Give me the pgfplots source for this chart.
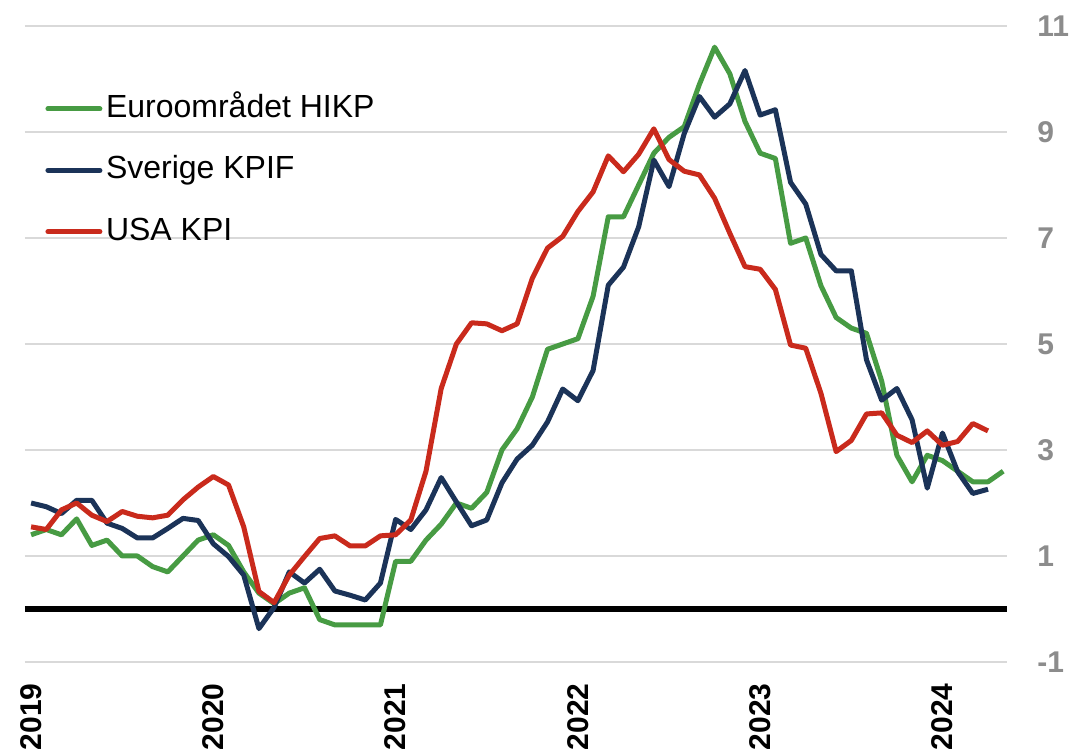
\documentclass[border=0pt]{standalone}
\usepackage{pgfplots}
\pgfplotsset{compat=1.18}
\usepackage{fontspec}
\setmainfont{Liberation Sans}
\definecolor{cgreen}{HTML}{479B43}
\definecolor{cnavy}{HTML}{1B3358}
\definecolor{cred}{HTML}{C92A1C}
\definecolor{cgrid}{HTML}{D9D9D9}
\definecolor{ctick}{HTML}{8C8C8C}
\begin{document}
\begin{tikzpicture}
\begin{axis}[
  scale only axis, width=491pt, height=318pt,
  xmin=-0.4, xmax=64.25, ymin=-1, ymax=11,
  axis line style={draw=none},
  major tick length=0pt,
  ytick={-1,1,3,5,7,9,11},
  yticklabels={-1,1,3,5,7,9,11},
  yticklabel pos=right,
  ymajorgrids,
  grid style={cgrid, line width=1pt},
  extra y ticks={0},
  extra y tick labels={},
  extra y tick style={grid style={black, line width=2.8pt}},
  y tick label style={font=\fontsize{15}{18}\selectfont\bfseries, text=ctick, inner sep=0pt, anchor=west},
  yticklabel shift=15pt,
  xtick={0,12,24,36,48,60},
  xticklabels={2019,2020,2021,2022,2023,2024},
  x tick label style={rotate=90, anchor=east, font=\fontsize{15}{18}\selectfont\bfseries, inner sep=0pt},
  xticklabel shift=10.5pt,
  legend cell align=left,
  legend style={at={(rel axis cs:0.0204,0.893)}, anchor=north west, draw=none, fill=none,
    font=\fontsize{16}{19}\selectfont, inner sep=0pt, column sep=1.8pt, row sep=16.2pt,
    nodes={inner sep=0pt, text height=11.5pt, text depth=3pt}},
  legend image code/.code={\draw[#1, line cap=round] (0pt,0pt) -- (26pt,0pt);},
  every axis plot/.append style={line width=2.5pt, line join=round},
]
\addplot[cgreen] coordinates {
(0,1.4)(1,1.5)(2,1.4)(3,1.7)(4,1.2)(5,1.3)(6,1.0)(7,1.0)(8,0.8)(9,0.7)(10,1.0)(11,1.3)
(12,1.4)(13,1.2)(14,0.7)(15,0.3)(16,0.1)(17,0.3)(18,0.4)(19,-0.2)(20,-0.3)(21,-0.3)(22,-0.3)(23,-0.3)
(24,0.9)(25,0.9)(26,1.3)(27,1.6)(28,2.0)(29,1.9)(30,2.2)(31,3.0)(32,3.4)(33,4.0)(34,4.9)(35,5.0)
(36,5.1)(37,5.9)(38,7.4)(39,7.4)(40,8.0)(41,8.6)(42,8.9)(43,9.1)(44,9.9)(45,10.6)(46,10.1)(47,9.2)
(48,8.6)(49,8.5)(50,6.9)(51,7.0)(52,6.1)(53,5.5)(54,5.3)(55,5.2)(56,4.3)(57,2.9)(58,2.4)(59,2.9)
(60,2.8)(61,2.6)(62,2.4)(63,2.4)(64,2.6)};
\addlegendentry{Euroområdet HIKP}
\addplot[cnavy] coordinates {
(0,2.0)(1,1.93)(2,1.8)(3,2.05)(4,2.05)(5,1.62)(6,1.52)(7,1.34)(8,1.34)(9,1.52)(10,1.71)(11,1.67)
(12,1.23)(13,0.99)(14,0.64)(15,-0.37)(16,0.03)(17,0.7)(18,0.49)(19,0.75)(20,0.34)(21,0.26)(22,0.17)(23,0.49)
(24,1.69)(25,1.5)(26,1.87)(27,2.48)(28,2.02)(29,1.57)(30,1.68)(31,2.38)(32,2.83)(33,3.09)(34,3.53)(35,4.15)
(36,3.93)(37,4.5)(38,6.11)(39,6.45)(40,7.21)(41,8.47)(42,7.97)(43,8.97)(44,9.67)(45,9.28)(46,9.53)(47,10.16)
(48,9.32)(49,9.42)(50,8.05)(51,7.64)(52,6.69)(53,6.38)(54,6.38)(55,4.7)(56,3.94)(57,4.16)(58,3.57)(59,2.28)
(60,3.32)(61,2.59)(62,2.18)(63,2.26)};
\addlegendentry{Sverige KPIF}
\addplot[cred] coordinates {
(0,1.55)(1,1.5)(2,1.87)(3,2.0)(4,1.77)(5,1.65)(6,1.84)(7,1.75)(8,1.72)(9,1.77)(10,2.06)(11,2.3)
(12,2.5)(13,2.34)(14,1.55)(15,0.33)(16,0.12)(17,0.64)(18,0.99)(19,1.33)(20,1.38)(21,1.19)(22,1.19)(23,1.38)
(24,1.4)(25,1.68)(26,2.6)(27,4.16)(28,5.0)(29,5.4)(30,5.38)(31,5.25)(32,5.38)(33,6.24)(34,6.81)(35,7.03)
(36,7.5)(37,7.87)(38,8.55)(39,8.25)(40,8.58)(41,9.06)(42,8.48)(43,8.26)(44,8.19)(45,7.75)(46,7.09)(47,6.46)
(48,6.41)(49,6.03)(50,4.98)(51,4.92)(52,4.07)(53,2.97)(54,3.18)(55,3.68)(56,3.7)(57,3.28)(58,3.14)(59,3.36)
(60,3.09)(61,3.16)(62,3.5)(63,3.36)};
\addlegendentry{USA KPI}
\end{axis}
\pgfresetboundingbox
\path ([xshift=-12.5pt,yshift=-46.5pt]current axis.south west) rectangle ([xshift=32pt,yshift=13pt]current axis.north east);
\end{tikzpicture}
\end{document}
